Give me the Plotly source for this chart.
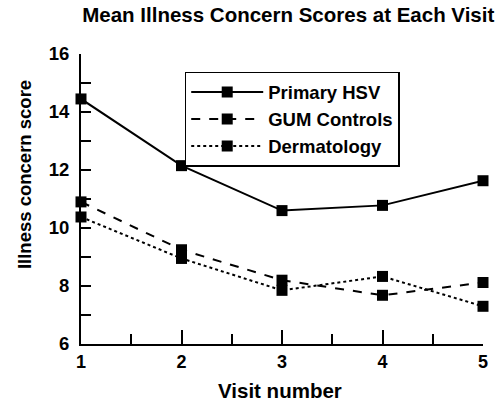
import plotly.graph_objects as go

visits = [1, 2, 3, 4, 5]
primary_hsv = [14.45, 12.15, 10.6, 10.78, 11.63]
gum_controls = [10.9, 9.25, 8.2, 7.68, 8.12]
dermatology = [10.38, 8.95, 7.85, 8.33, 7.3]
series_names = ["Primary HSV", "GUM Controls", "Dermatology"]
y_ticks = [6, 8, 10, 12, 14, 16]

FONT = "Arial, Liberation Sans, sans-serif"

fig = go.Figure()
for name, vals, dash in zip(series_names, [primary_hsv, gum_controls, dermatology], ["solid", "dash", "dot"]):
    fig.add_trace(go.Scatter(
        x=visits, y=vals, name=f"<b>{name}</b>", mode="lines+markers",
        line=dict(color="black", width=2, dash=dash),
        marker=dict(symbol="square", size=11, color="black"),
        cliponaxis=False,
    ))

fig.update_layout(
    width=497, height=404,
    margin=dict(l=81, r=14, t=54, b=60),
    paper_bgcolor="white", plot_bgcolor="white",
    font=dict(family=FONT, color="black", size=16),
    title=dict(text="<b>Mean Illness Concern Scores at Each Visit</b>", x=0.58, xanchor="center",
               y=0.963, yanchor="middle", font=dict(size=20.5)),
    showlegend=True,
    legend=dict(x=0.258, y=0.938, xanchor="left", yanchor="top",
                bordercolor="black", borderwidth=1.5, bgcolor="white",
                font=dict(size=18.5), tracegroupgap=0, itemwidth=72),
    annotations=[
        dict(text="<b>Illness concern score</b>", xref="paper", yref="paper", x=-0.139, y=0.583,
             xanchor="center", yanchor="middle", textangle=-90, showarrow=False, font=dict(size=18.5)),
        dict(text="<b>Visit number</b>", xref="paper", yref="paper", x=0.495, y=-0.159,
             xanchor="center", yanchor="middle", showarrow=False, font=dict(size=20.5)),
    ],
)
fig.update_xaxes(range=[1, 5], tickvals=visits, ticktext=[f"<b>{v}</b>" for v in visits],
                 showgrid=False, zeroline=False, showline=True, linecolor="black", linewidth=2,
                 ticks="inside", ticklen=14, tickwidth=2, tickcolor="black",
                 minor=dict(dtick=0.5, ticks="inside", ticklen=10, tickwidth=2, tickcolor="black", showgrid=False),
                 automargin=False, tickfont=dict(size=18))
fig.update_yaxes(range=[6, 16], tickvals=y_ticks, ticktext=[f"<b>{v}</b>" for v in y_ticks],
                 showgrid=False, zeroline=False, showline=True, linecolor="black", linewidth=2,
                 ticks="inside", ticklen=10, tickwidth=2, tickcolor="black",
                 minor=dict(dtick=1, ticks="inside", ticklen=10, tickwidth=2, tickcolor="black", showgrid=False),
                 automargin=False, tickfont=dict(size=18.5), ticklabelstandoff=6)

fig.write_html("out.html", config={"displayModeBar": False},
               post_script="document.body.style.margin='0';")
